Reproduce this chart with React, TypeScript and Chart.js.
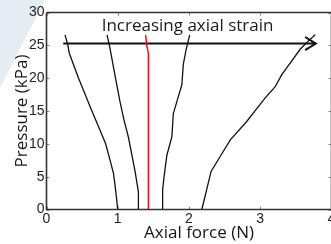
import React, { useEffect, useRef } from "react";
import { Chart, registerables } from "chart.js";

Chart.register(...registerables);

// Axial force (N) / Pressure (kPa) pairs
const curve1: [number, number][] = [
  [0.26, 26.6], [0.3, 25.0], [0.32, 23.8], [0.45, 20.0], [0.63, 15.2], [0.75, 12.1],
  [0.83, 10.0], [0.89, 7.6], [0.94, 5.5], [0.97, 3.0], [1.0, 0],
];
const curve2: [number, number][] = [
  [0.85, 26.6], [0.89, 24.6], [0.96, 20.5], [1.03, 16.5], [1.09, 13.5], [1.15, 11.0],
  [1.24, 6.0], [1.29, 2.7], [1.29, 0],
];
const curveRed: [number, number][] = [
  [1.39, 26.6], [1.41, 24.8], [1.43, 23.8], [1.43, 0],
];
const curve3: [number, number][] = [
  [2.01, 26.6], [1.96, 24.4], [1.92, 22.1], [1.9, 19.0], [1.84, 16.8], [1.78, 14.6],
  [1.76, 11.1], [1.69, 8.3], [1.65, 5.0], [1.63, 3.0], [1.63, 0],
];
const curve4: [number, number][] = [
  [2.18, 0], [2.31, 5.8], [2.45, 8.3], [2.58, 10.6], [2.81, 13.4], [2.94, 15.2],
  [3.07, 17.0], [3.21, 18.7], [3.3, 20.5], [3.42, 22.3], [3.56, 24.4], [3.67, 25.6],
  [3.77, 26.6],
];
const arrowShaft: [number, number][] = [[0.235, 25.27], [3.78, 25.27]];
const arrowHead: [number, number][] = [[3.63, 26.27], [3.78, 25.27], [3.63, 24.27]];

const xTicks = [0, 1, 2, 3, 4];
const yTicks = [0, 5, 10, 15, 20, 25, 30];
const xTitle = "Axial force (N)";
const yTitle = "Pressure (kPa)";
const annotation = "Increasing axial strain";
const annotationPos: [number, number] = [1.98, 27.2];

const toPts = (a: [number, number][]) => a.map(([x, y]) => ({ x, y }));

const framePlugin = {
  id: "frame",
  beforeDraw(chart: any) {
    const ctx = chart.ctx;
    ctx.save();
    ctx.fillStyle = "rgba(205,217,230,0.5)";
    ctx.beginPath();
    ctx.moveTo(0, 0);
    ctx.lineTo(45, 0);
    ctx.lineTo(0, 88);
    ctx.closePath();
    ctx.fill();
    ctx.restore();
  },
  afterDatasetsDraw(chart: any) {
    const ctx = chart.ctx;
    const { left, right, top, bottom } = chart.chartArea;
    const xs = chart.scales.x;
    const ys = chart.scales.y;
    ctx.save();
    // inward ticks
    ctx.strokeStyle = "#8a8a8a";
    ctx.lineWidth = 1;
    ctx.beginPath();
    xTicks.forEach((v) => {
      const px = Math.round(xs.getPixelForValue(v)) + 0.5;
      ctx.moveTo(px, bottom);
      ctx.lineTo(px, bottom - 3);
      ctx.moveTo(px, top);
      ctx.lineTo(px, top + 3);
    });
    yTicks.forEach((v) => {
      const py = Math.round(ys.getPixelForValue(v)) + 0.5;
      ctx.moveTo(left, py);
      ctx.lineTo(left + 3, py);
      ctx.moveTo(right, py);
      ctx.lineTo(right - 3, py);
    });
    ctx.stroke();
    // frame
    ctx.strokeStyle = "#333";
    ctx.lineWidth = 1.6;
    ctx.beginPath();
    ctx.moveTo(left, top);
    ctx.lineTo(right, top);
    ctx.lineTo(right, bottom);
    ctx.moveTo(left, top);
    ctx.lineTo(left, bottom);
    ctx.lineTo(right, bottom);
    ctx.stroke();
    // annotation text
    ctx.fillStyle = "#1a1a1a";
    ctx.font = "17px 'Open Sans'";
    ctx.textAlign = "center";
    ctx.textBaseline = "alphabetic";
    ctx.fillText(
      annotation,
      xs.getPixelForValue(annotationPos[0]),
      ys.getPixelForValue(annotationPos[1])
    );
    // x-axis title (placed slightly right of centre, as in the original)
    ctx.fillStyle = "#151515";
    ctx.textBaseline = "middle";
    ctx.fillText(xTitle, (left + right) / 2 + 10, xs.bottom - 10.5);
    ctx.restore();
  },
};

export default function App() {
  const ref = useRef<HTMLCanvasElement>(null);
  useEffect(() => {
    if (!ref.current) return;
    const line = (data: [number, number][], color: string, width: number) => ({
      data: toPts(data),
      borderColor: color,
      backgroundColor: color,
      borderWidth: width,
      pointRadius: 0,
      showLine: true,
      fill: false,
      tension: 0,
    });
    const chart = new Chart(ref.current, {
      type: "scatter",
      data: {
        datasets: [
          line(curve1, "#111", 1.3),
          line(curve2, "#111", 1.3),
          line(curveRed, "#e3151b", 1.5),
          line(curve3, "#111", 1.3),
          line(curve4, "#111", 1.3),
          line(arrowShaft, "#111", 2),
          line(arrowHead, "#111", 2),
        ],
      },
      options: {
        animation: false,
        responsive: false,
        devicePixelRatio: 1,
        layout: { padding: { top: 12.5, right: 8.5, left: 0, bottom: 0 } },
        plugins: { legend: { display: false }, tooltip: { enabled: false } },
        scales: {
          x: {
            type: "linear",
            min: 0,
            max: 4,
            afterBuildTicks: (s: any) => {
              s.ticks = xTicks.map((v) => ({ value: v }));
            },
            afterFit: (s: any) => {
              s.height = 34.5;
            },
            grid: { display: false, drawTicks: false },
            border: { display: false },
            ticks: {
              padding: 1,
              color: "#222",
              font: { family: "'Liberation Sans'", size: 14 },
            },
            title: { display: false, text: xTitle },
          },
          y: {
            type: "linear",
            min: 0,
            max: 30,
            afterBuildTicks: (s: any) => {
              s.ticks = yTicks.map((v) => ({ value: v }));
            },
            afterFit: (s: any) => {
              s.width = 46.5;
            },
            grid: { display: false, drawTicks: false },
            border: { display: false },
            ticks: {
              padding: 2,
              color: "#222",
              font: { family: "'Liberation Sans'", size: 14 },
            },
            title: {
              display: true,
              text: yTitle,
              color: "#151515",
              font: { family: "'Open Sans'", size: 17 },
              padding: { top: 12, bottom: 0 },
            },
          },
        },
      },
      plugins: [framePlugin],
    } as any);
    return () => chart.destroy();
  }, []);
  return (
    <div
      style={{
        position: "absolute",
        left: 0,
        top: 0,
        width: 331,
        height: 244,
        overflow: "hidden",
        background: "#fff",
      }}
    >
      <canvas ref={ref} width={340} height={244} style={{ display: "block" }} />
    </div>
  );
}
